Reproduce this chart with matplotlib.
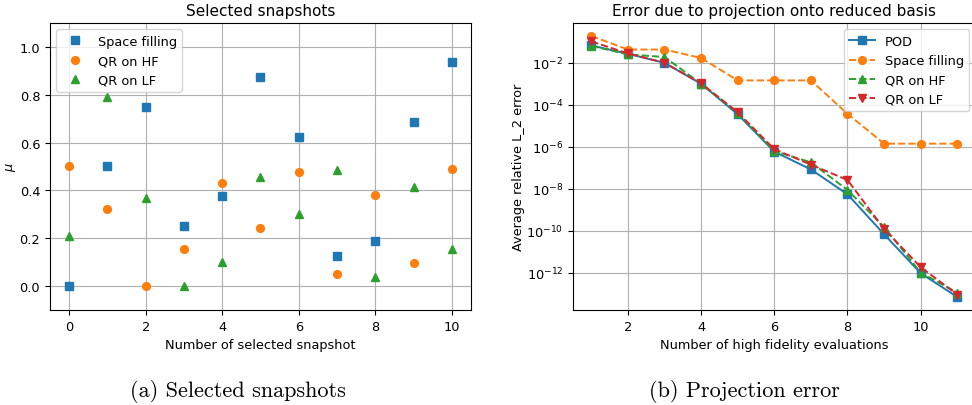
import numpy as np
import matplotlib
matplotlib.use("Agg")
import matplotlib.pyplot as plt
from matplotlib.ticker import NullLocator

'''
DATA
'''
snap_idx = np.arange(11)
mu_space = [0.0, 0.5, 0.75, 0.25, 0.375, 0.875, 0.625, 0.125, 0.1875, 0.6875, 0.9375]
mu_qr_hf = [0.5, 0.324, 0.0, 0.157, 0.432, 0.242, 0.476, 0.05, 0.381, 0.098, 0.491]
mu_qr_lf = [0.208, 0.792, 0.368, 0.0, 0.102, 0.457, 0.3, 0.484, 0.037, 0.415, 0.157]

n_hf = np.arange(1, 12)
err_pod = [6.7e-2, 2.7e-2, 1.0e-2, 1.0e-3, 3.5e-5, 5.8e-7, 8.3e-8, 5.4e-9, 6.7e-11, 9.3e-13, 6.9e-14]
err_space = [1.9e-1, 4.3e-2, 4.3e-2, 1.7e-2, 1.45e-3, 1.45e-3, 1.45e-3, 3.7e-5, 1.4e-6, 1.4e-6, 1.4e-6]
err_qr_hf = [6.5e-2, 2.5e-2, 1.9e-2, 1.0e-3, 4.2e-5, 6.2e-7, 1.8e-7, 8.7e-9, 1.5e-10, 1.0e-12, 1.1e-13]
err_qr_lf = [1.05e-1, 2.8e-2, 1.0e-2, 1.05e-3, 4.4e-5, 7.6e-7, 1.4e-7, 2.6e-8, 1.2e-10, 1.8e-12, 9.0e-14]

plt.rcParams['font.size'] = 9.3
plt.rcParams['lines.linewidth'] = 1.4
plt.rcParams['lines.markersize'] = 5.6
plt.rcParams['axes.titlesize'] = 11

fig = plt.figure(figsize=(9.72, 4.06), dpi=100)

# =========================
# (a) selected snapshots
# =========================
ax1 = fig.add_axes([0.0514, 0.234, 0.4331, 0.707])
ax1.plot(snap_idx, mu_space, 's', color='#1f77b4', label='Space filling')
ax1.plot(snap_idx, mu_qr_hf, 'o', color='#ff7f0e', label='QR on HF')
ax1.plot(snap_idx, mu_qr_lf, '^', color='#2ca02c', label='QR on LF')
ax1.set_ylim(-0.1, 1.1)
ax1.set_xlim(-0.5, 10.5)
ax1.set_xticks([0, 2, 4, 6, 8, 10])
ax1.set_yticks([0.0, 0.2, 0.4, 0.6, 0.8, 1.0])
ax1.grid(True)
ax1.set_xlabel("Number of selected snapshot")
ax1.set_ylabel(r"$\mu$", labelpad=1)
ax1.set_title("Selected snapshots")
ax1.legend(loc='upper left', numpoints=1)

# =========================
# (b) projection error
# =========================
ax2 = fig.add_axes([0.5895, 0.234, 0.4142, 0.707])
ax2.semilogy(n_hf, err_pod, 's-', color='#1f77b4', label='POD')
ax2.semilogy(n_hf, err_space, 'o--', color='#ff7f0e', label='Space filling')
ax2.semilogy(n_hf, err_qr_hf, '^--', color='#2ca02c', label='QR on HF')
ax2.semilogy(n_hf, err_qr_lf, 'v--', color='#d62728', label='QR on LF')
ax2.set_xlim(0.5, 11.5)
ax2.set_xticks([2, 4, 6, 8, 10])
ax2.set_yticks([1e-12, 1e-10, 1e-8, 1e-6, 1e-4, 1e-2])
ax2.yaxis.set_minor_locator(NullLocator())
ax2.grid(True)
ax2.set_xlabel("Number of high fidelity evaluations")
ax2.set_ylabel("Average relative L_2 error", labelpad=1)
ax2.set_title("Error due to projection onto reduced basis")
ax2.legend(loc='upper right')

# subfigure captions
fig.text(238 / 972, 1 - 392 / 406, "(a) Selected snapshots", family='cmr10',
         fontsize=16, ha='center', va='center')
fig.text(744 / 972, 1 - 392 / 406, "(b) Projection error", family='cmr10',
         fontsize=16, ha='center', va='center')

fig.savefig("out.png", dpi=100)
